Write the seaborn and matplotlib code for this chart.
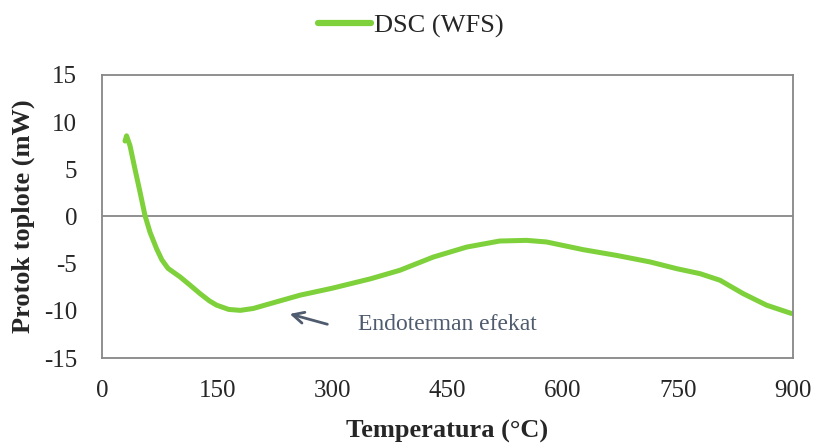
import matplotlib
matplotlib.use("Agg")
import matplotlib.pyplot as plt
import seaborn as sns
import pandas as pd

# DSC curve of the WFS sample: temperature (°C) vs heat flow (mW)
temperature = [30, 32, 36.5, 43, 49.5, 56, 62.5, 71, 78, 86, 101.6, 115, 127.6,
               140, 149.3, 165, 180, 197, 225, 258, 300, 350, 388, 431.5, 475, 518,
               553, 579, 627, 670, 714, 748.5, 779, 805, 835, 865.6, 898]
heat_flow = [8.0, 8.55, 7.5, 5.0, 2.6, 0.1, -1.66, -3.4, -4.6, -5.5, -6.4, -7.3, -8.17,
             -8.95, -9.4, -9.85, -9.95, -9.75, -9.1, -8.34, -7.6, -6.6, -5.7, -4.3, -3.24, -2.6,
             -2.53, -2.7, -3.52, -4.12, -4.82, -5.53, -6.06, -6.76, -8.17, -9.4, -10.28]

x_ticks = [0, 150, 300, 450, 600, 750, 900]
y_ticks = [-15, -10, -5, 0, 5, 10, 15]
series_name = "DSC (WFS)"
note_text = "Endoterman efekat"

df = pd.DataFrame({"Temperatura": temperature, "Protok": heat_flow, "Uzorak": series_name})

sns.set_style("white")
plt.rcParams["font.family"] = ["Liberation Serif", "DejaVu Serif"]

fig = plt.figure(figsize=(8.18, 4.45), dpi=100)
ax = fig.add_axes([0.1247, 0.1955, 0.9694 - 0.1247, 0.8315 - 0.1955])

green = "#7ED13B"
grey = "#878787"

sns.lineplot(data=df, x="Temperatura", y="Protok", hue="Uzorak", palette=[green],
             linewidth=3.6, sort=False, ax=ax, legend=True)
ax.get_lines()[0].set_solid_capstyle("round")
ax.get_lines()[0].set_solid_joinstyle("round")

ax.set_xlim(0, 900)
ax.set_ylim(-15, 15)
ax.set_xticks(x_ticks)
ax.set_yticks(y_ticks)
ax.set_xticklabels([str(v) for v in x_ticks], fontsize=18)
ax.set_yticklabels([str(v) for v in y_ticks], fontsize=18)
ax.tick_params(axis="y", length=8, width=1.3, color=grey, direction="out", pad=10)
ax.tick_params(axis="x", length=0, pad=16)

for side in ["left", "right", "top", "bottom"]:
    ax.spines[side].set_visible(True)
    ax.spines[side].set_color(grey)
    ax.spines[side].set_linewidth(1.3)

ax.axhline(0, color=grey, linewidth=1.3, zorder=1)

ax.set_xlabel("Temperatura (°C)", fontsize=19, fontweight="bold", labelpad=13)
ax.set_ylabel("Protok toplote (mW)", fontsize=19, fontweight="bold", labelpad=6)

# endothermic peak annotation
ax.annotate("", xy=(241, -10.25), xytext=(297, -11.5),
            arrowprops=dict(arrowstyle="->", color="#4F5B6E", lw=2.0,
                            mutation_scale=20))
ax.text(333, -11.4, note_text, fontsize=17, color="#4F5B6E", va="center", ha="left")

leg = ax.legend(loc="upper center", bbox_to_anchor=(0.447, 1.30), frameon=False,
                fontsize=19, handlelength=2.0, handletextpad=0.1)
for line in leg.get_lines():
    line.set_linewidth(4.5)
    line.set_solid_capstyle("round")

fig.savefig("out.png", dpi=100)
